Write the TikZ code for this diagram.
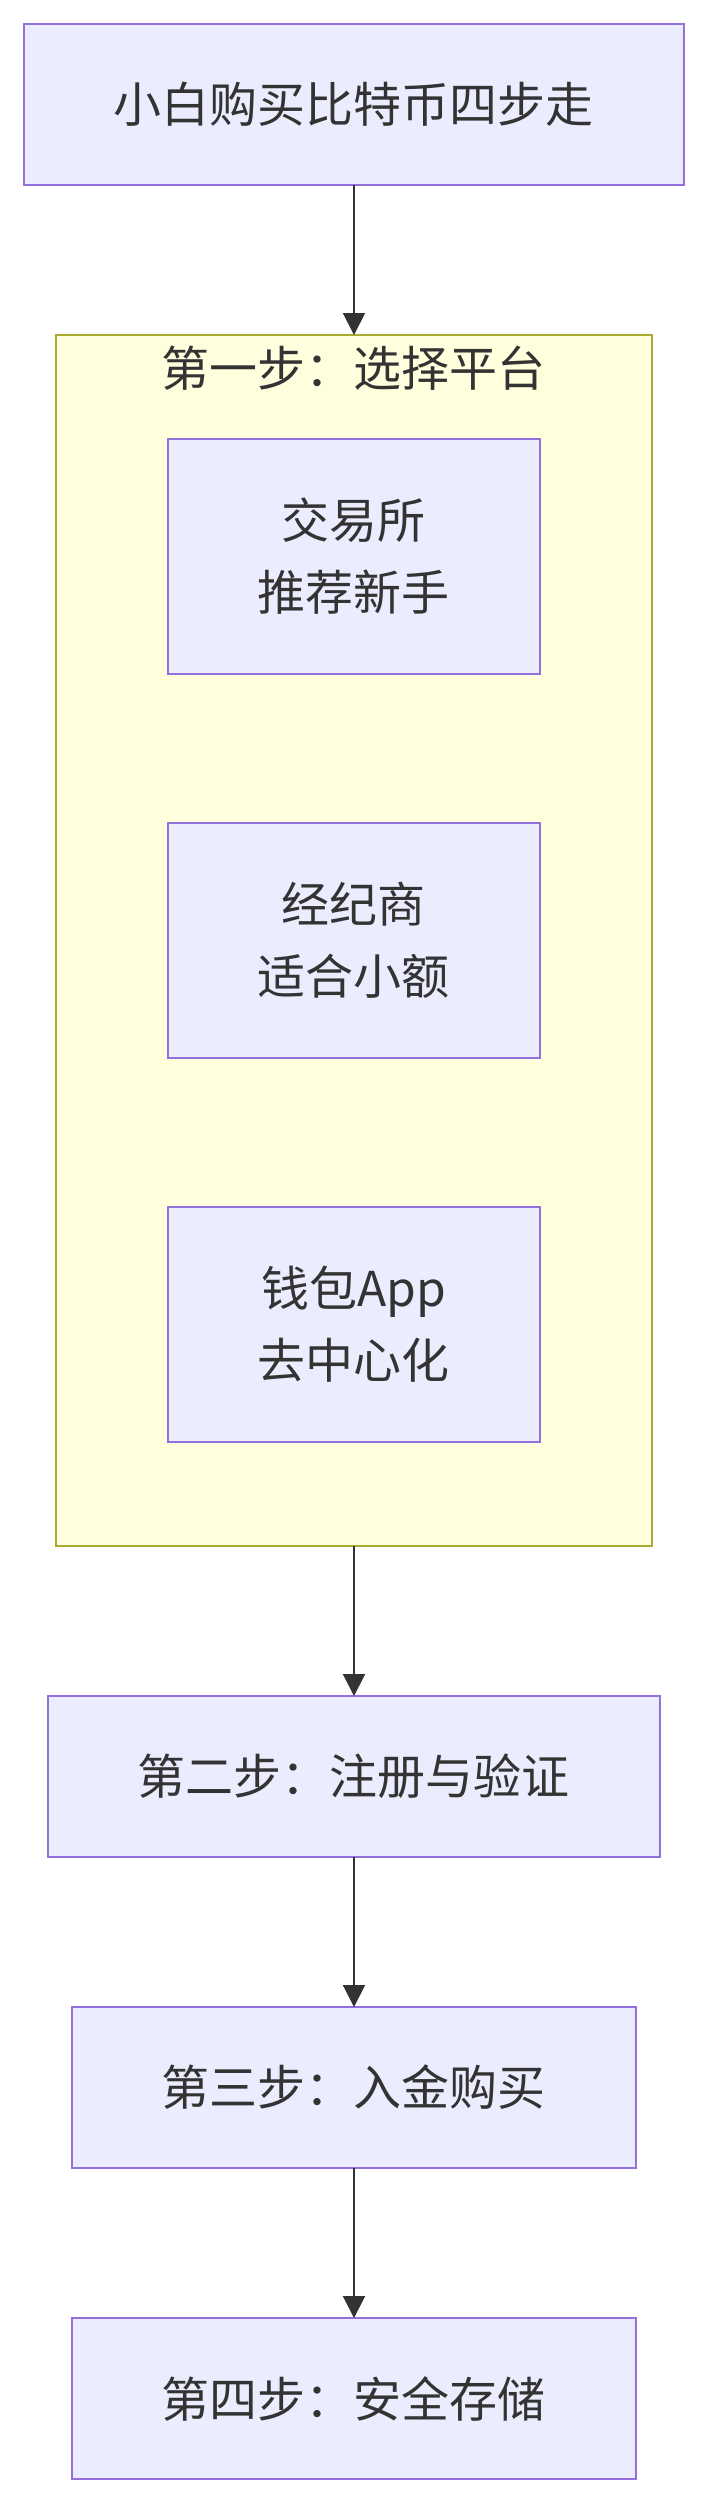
\documentclass[tikz,border=0pt]{standalone}
\usepackage{fontspec}
\setmainfont{Noto Sans CJK SC}
\usetikzlibrary{positioning, arrows.meta, fit, backgrounds}
\usepackage{xcolor}
\definecolor{boxfill}{HTML}{ECECFF}
\definecolor{boxline}{HTML}{9370DB}
\definecolor{groupfill}{HTML}{FFFFDE}
\definecolor{groupline}{HTML}{AAAA33}
\definecolor{ink}{HTML}{333333}

\begin{document}
\begin{tikzpicture}[
    node distance=75pt,
    stepbox/.style={rectangle, draw=boxline, line width=1pt, outer sep=0pt, fill=boxfill, text=ink, minimum height=80.5pt, inner sep=0pt, align=center, font=\fontsize{24pt}{36pt}\selectfont},
    platform/.style={stepbox, minimum width=186pt, minimum height=117.5pt},
    group/.style={rectangle, draw=groupline, line width=1pt, outer sep=0pt, fill=groupfill, inner xsep=56pt, inner ysep=52pt},
    grouptitle/.style={text=ink, inner sep=0pt, font=\fontsize{24pt}{36pt}\selectfont},
    flow/.style={draw=ink, line width=1pt, -{Triangle[length=11pt, width=11pt]}}
]
    \useasboundingbox (-177pt,52.25pt) rectangle (177pt,-1201.75pt);

    % Start
    \node[stepbox, minimum width=330pt] (start) {小白购买比特币四步走};

    % Step one: platforms
    \node[platform] (exchange) [below=127pt of start] {交易所\\推荐新手};
    \node[platform] (broker) [below=74.5pt of exchange] {经纪商\\适合小额};
    \node[platform] (wallet) [below=74.5pt of broker] {钱包App\\去中心化};
    \begin{scope}[on background layer]
        \node[group, fit=(exchange) (broker) (wallet)] (step1) {};
    \end{scope}
    \node[grouptitle] (step1title) at ([yshift=-16.5pt]step1.north) {第一步：选择平台};

    % Steps two to four
    \node[stepbox, minimum width=306pt] (step2) [below=of step1] {第二步：注册与验证};
    \node[stepbox, minimum width=282pt] (step3) [below=of step2] {第三步：入金购买};
    \node[stepbox, minimum width=282pt] (step4) [below=of step3] {第四步：安全存储};

    \draw[flow] (start) -- (step1);
    \draw[flow] (step1) -- (step2);
    \draw[flow] (step2) -- (step3);
    \draw[flow] (step3) -- (step4);

\end{tikzpicture}
\end{document}
